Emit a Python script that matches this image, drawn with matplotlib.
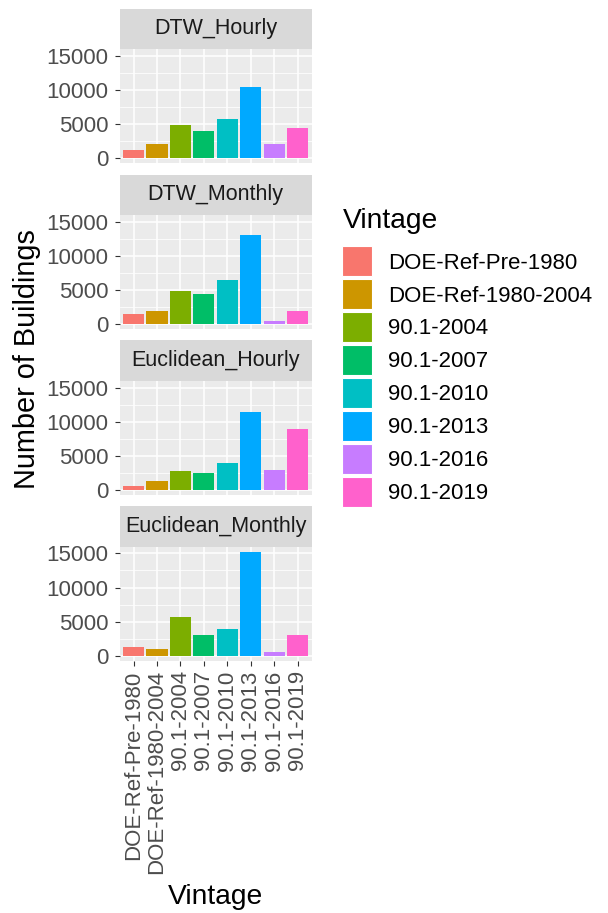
import matplotlib
matplotlib.use("Agg")
import matplotlib.pyplot as plt
from matplotlib.patches import Patch
import numpy as np

plt.rcParams['font.family'] = ['Liberation Sans', 'DejaVu Sans']

# categories and colours (ggplot default hue palette)
vintages = ["DOE-Ref-Pre-1980", "DOE-Ref-1980-2004", "90.1-2004", "90.1-2007",
            "90.1-2010", "90.1-2013", "90.1-2016", "90.1-2019"]
colors = ["#F8766D", "#CD9600", "#7CAE00", "#00BE67",
          "#00BFC4", "#00A9FF", "#C77CFF", "#FF61CC"]

panels = ["DTW_Hourly", "DTW_Monthly", "Euclidean_Hourly", "Euclidean_Monthly"]
dtw_hourly = [1230, 2060, 4820, 3980, 5650, 10470, 2060, 4420]
dtw_monthly = [1480, 1870, 4820, 4380, 6490, 13030, 390, 1870]
euclid_hourly = [590, 1230, 2700, 2500, 3970, 11470, 2890, 8970]
euclid_monthly = [1220, 980, 5620, 3080, 3910, 15200, 590, 3080]
counts = [dtw_hourly, dtw_monthly, euclid_hourly, euclid_monthly]

W, H = 608, 913
fig = plt.figure(figsize=(W / 100, H / 100), dpi=100)
fig.patch.set_facecolor("white")

# layout in pixels
left_px, right_px = 119.5, 311.7
top0, step, ph, sh = 49.2, 165.9, 114.0, 40.5

ymax = max(max(c) for c in counts)
ylo, yhi = -0.05 * ymax, 1.05 * ymax
x = np.arange(1, len(vintages) + 1)

for i, (name, vals) in enumerate(zip(panels, counts)):
    top = top0 + step * i
    ax = fig.add_axes([left_px / W, 1 - (top + ph) / H, (right_px - left_px) / W, ph / H])
    ax.set_facecolor("#EBEBEB")
    ax.bar(x, vals, width=0.9, color=colors, zorder=3)
    ax.set_xlim(0.4, len(vintages) + 0.6)
    ax.set_ylim(ylo, yhi)
    ax.set_yticks([0, 5000, 10000, 15000])
    ax.set_yticks([2500, 7500, 12500], minor=True)
    ax.set_xticks(x)
    ax.grid(which="major", color="white", linewidth=1.1, zorder=1)
    ax.grid(which="minor", axis="y", color="white", linewidth=0.55, zorder=1)
    for s in ax.spines.values():
        s.set_visible(False)
    ax.tick_params(axis="y", which="major", length=3.8, width=0.8, color="#333333",
                   labelsize=16, labelcolor="#4D4D4D", pad=4)
    ax.tick_params(axis="y", which="minor", length=0)
    if i == len(panels) - 1:
        ax.set_xticklabels(vintages, rotation=90, ha="center", va="top")
        ax.tick_params(axis="x", length=3.8, width=0.8, color="#333333",
                       labelsize=16, labelcolor="#4D4D4D", pad=3)
    else:
        ax.tick_params(axis="x", length=0, labelbottom=False)

    # facet strip
    sx = fig.add_axes([left_px / W, 1 - top / H, (right_px - left_px) / W, sh / H])
    sx.set_facecolor("#D9D9D9")
    sx.set_xticks([])
    sx.set_yticks([])
    for s in sx.spines.values():
        s.set_visible(False)
    sx.text(0.5, 0.5, name, ha="center", va="center", fontsize=15.5,
            color="#1A1A1A", transform=sx.transAxes)

fig.text(27 / W, 1 - 359 / H, "Number of Buildings", rotation=90, ha="center",
         va="center", fontsize=20.8)
fig.text((left_px + right_px) / 2 / W, 1 - 897 / H, "Vintage", ha="center",
         va="center", fontsize=20.3)

handles = [Patch(facecolor=c, edgecolor="white", linewidth=0.8) for c in colors]
leg = fig.legend(handles, vintages, loc="upper left",
                 bbox_to_anchor=(338 / W, 1 - 204 / H), frameon=False,
                 fontsize=16, title="Vintage", title_fontsize=20.3,
                 handlelength=1.35, handleheight=1.7, labelspacing=0.13,
                 handletextpad=0.7, borderaxespad=0, borderpad=0.2)
leg._legend_box.align = "left"
leg._legend_box.sep = 8.6

fig.savefig("out.png", dpi=100)
